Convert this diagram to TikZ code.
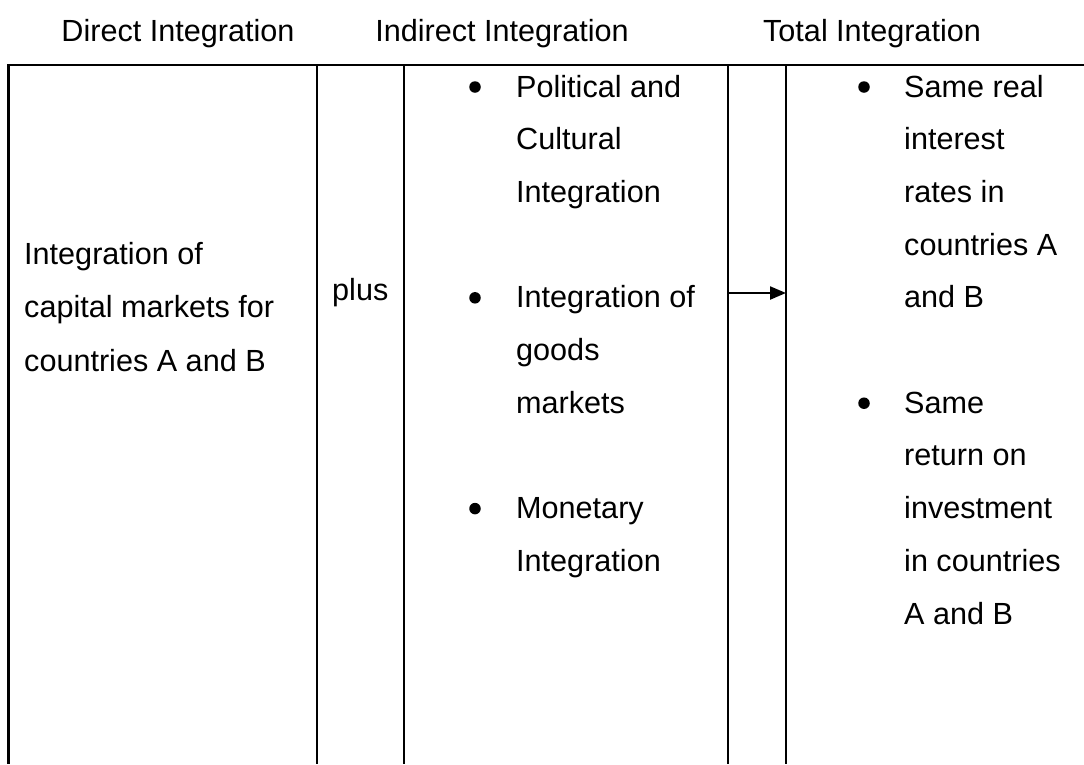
\documentclass[tikz,border=0pt]{standalone}
\usepackage{fontspec}
\setmainfont{Liberation Sans}
\usetikzlibrary{arrows.meta}
\begin{document}
\begin{tikzpicture}[x=1pt,y=-1pt,
  txt/.style={anchor=base west,inner sep=0pt,font=\fontsize{30.6}{52}\selectfont},
  hdr/.style={anchor=base,inner sep=0pt,font=\fontsize{30.6}{52}\selectfont},
  rulestyle/.style={line width=2.8pt},
  bul/.style={circle,fill=black,draw=none,inner sep=0pt,minimum size=11.5pt},
  arr/.style={line width=2.2pt,-{Triangle[length=16pt,width=13pt]}}]
\useasboundingbox (0,0) rectangle (1084,764);
% headers
\node[hdr] (h1) at (178,41) {Direct Integration};
\node[hdr] (h2) at (502,41) {Indirect Integration};
\node[hdr] (h3) at (872,41) {Total Integration};
% table rules
\coordinate (tl) at (7.1,65);
\coordinate (tr) at (1084,65);
\draw[rulestyle] (tl) -- (tr);
\foreach \xx/\nm in {8.5/v1,317/v2,404/v3,728/v4,786/v5}{
  \coordinate (\nm t) at (\xx,64);
  \coordinate (\nm b) at (\xx,764);
  \draw[rulestyle] (\nm t) -- (\nm b);
}
% left column
\node[txt] (l1) at (24,264) {Integration of};
\node[txt] (l2) at (24,317.5) {capital markets for};
\node[txt] (l3) at (24,371) {countries A and B};
% plus
\node[txt] (plus) at (332,300) {plus};
% middle column
\foreach \k/\t/\nm in {0/Political and/m1,1/Cultural/m2,2/Integration/m3,4/Integration of/m4,5/goods/m5,6/markets/m6,8/Monetary/m7,9/Integration/m8}{
  \node[txt] (\nm) at (516,97+52.7*\k) {\t};
}
\foreach \k/\nm in {0/b1,4/b2,8/b3}{
  \node[bul] (\nm) at (475,97+52.7*\k-10) {};
}
% right column
\foreach \k/\t/\nm in {0/Same real/r1,1/interest/r2,2/rates in/r3,3/countries A/r4,4/and B/r5,6/Same/r6,7/return on/r7,8/investment/r8,9/in countries/r9,10/A and B/r10}{
  \node[txt] (\nm) at (904,97+52.7*\k) {\t};
}
\foreach \k/\nm in {0/c1,6/c2}{
  \node[bul] (\nm) at (864,97+52.7*\k-10) {};
}
% arrow
\coordinate (as) at (729,293);
\coordinate (ae) at (786,293);
\draw[arr] (as) -- (ae);
\end{tikzpicture}
\end{document}
